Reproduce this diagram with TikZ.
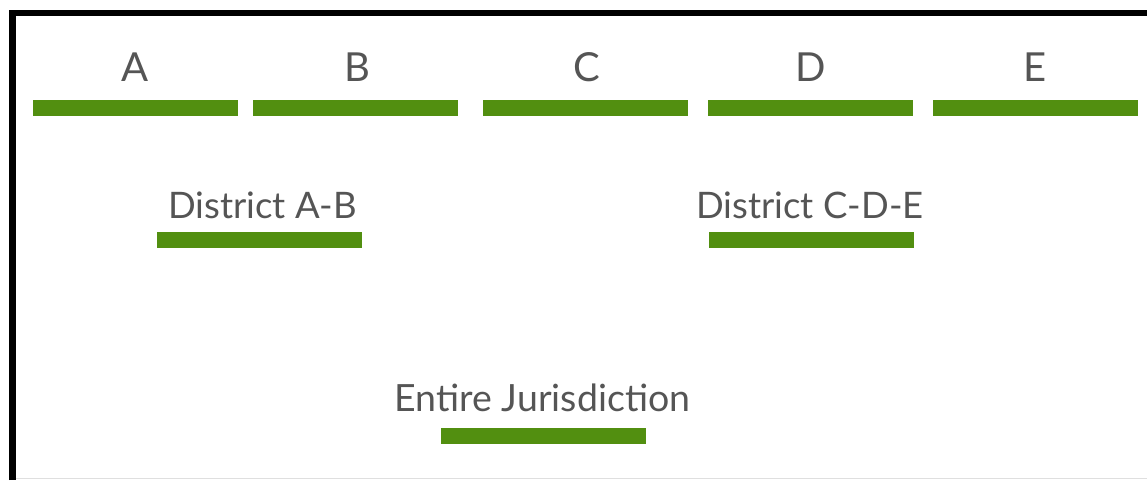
\documentclass[tikz,border=0pt]{standalone}
\usepackage{fontspec}
\setmainfont{Lato}
\definecolor{barGreen}{RGB}{82,143,16}
\definecolor{textGray}{RGB}{85,85,85}
\begin{document}
\begin{tikzpicture}[x=1pt,y=-1pt,
  bar/.style={fill=barGreen, draw=none, inner sep=0pt, minimum width=205pt, minimum height=16pt},
  biglab/.style={text=textGray, font=\fontsize{40}{40}\selectfont, anchor=base, inner sep=0pt},
  midlab/.style={text=textGray, font=\fontsize{36.5}{36.5}\selectfont, anchor=base, inner sep=0pt},
  botlab/.style={text=textGray, font=\fontsize{37.5}{37.5}\selectfont, anchor=base, inner sep=0pt},
  frame/.style={line width=6.5pt, draw=black}]
\useasboundingbox (0,0) rectangle (1147,480);
\fill[white] (0,0) rectangle (1147,480);
% frame
\draw[frame] (12.5,480) -- (12.5,13) -- (1147,13);
\draw[gray!25, line width=1pt] (16,478.5) -- (1147,478.5);
% top row
\node[bar] (barA) at (135.5,108) {};
\node[bar] (barB) at (355.5,108) {};
\node[bar] (barC) at (585.5,108) {};
\node[bar] (barD) at (810.5,108) {};
\node[bar] (barE) at (1035,108) {};
\node[biglab] (labA) at (135,81) {A};
\node[biglab] (labB) at (357,81) {B};
\node[biglab] (labC) at (587,81) {C};
\node[biglab] (labD) at (811,81) {D};
\node[biglab] (labE) at (1035,81) {E};
% districts
\node[bar] (barAB) at (259.5,240) {};
\node[bar] (barCDE) at (811,240) {};
\node[midlab] (labAB) at (262.5,218) {District A-B};
\node[midlab] (labCDE) at (810,218) {District C-D-E};
% entire
\node[bar] (barAll) at (543,436) {};
\node[botlab] (labAll) at (542.5,411) {Entire Jurisdiction};
\end{tikzpicture}
\end{document}
